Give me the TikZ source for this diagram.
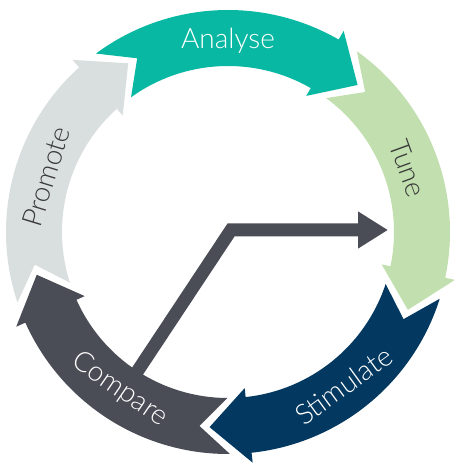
\documentclass[tikz,border=0pt]{standalone}
\usepackage{fontspec}
\setmainfont{Lato}[UprightFont=* Light]
\usetikzlibrary{arrows.meta}
\definecolor{analyse}{HTML}{08B8A3}
\definecolor{tune}{HTML}{C2E0AF}
\definecolor{stimulate}{HTML}{033860}
\definecolor{compare}{HTML}{4A4D56}
\definecolor{promote}{HTML}{D9DEDE}
\definecolor{darktext}{HTML}{3A3A3A}
\tikzset{steplabel/.style={font=\fontsize{28}{30}\selectfont, inner sep=0pt}}
\begin{document}
\begin{tikzpicture}[x=1pt, y=1pt]
	\def\ro{222pt} \def\ri{166pt} \def\rmid{196pt} \def\rbo{232pt} \def\rbi{157pt}
	\useasboundingbox (-228,-231) rectangle (226,232);
	% ring: tip angle / colour, tail notch sits 3 degrees past the previous tip
	\foreach \tip/\col in {120.6/promote, 48.6/analyse, -23.4/tune, -95.4/stimulate, -167.4/compare}{
		\pgfmathsetmacro\hb{\tip+11.5} \pgfmathsetmacro\tn{\tip+69}
		\pgfmathsetmacro\tlo{\tip+77.9} \pgfmathsetmacro\tli{\tip+77.15}
		\fill[\col] (\tlo:\ro) arc[start angle=\tlo, end angle=\hb, radius=\ro]
			-- (\hb:\rbo) -- (\tip:\rmid) -- (\hb:\rbi) -- (\hb:\ri)
			arc[start angle=\hb, end angle=\tli, radius=\ri] -- (\tn:\rmid) -- cycle;
	}
	\coordinate (cmpfoot) at (-101,-155);
	\coordinate (bend) at (3,2);
	\coordinate (tunetip) at (160,2);
	\draw[compare, line width=13pt, -{Triangle[length=30pt, width=35pt]}] (cmpfoot) -- (bend) -- (tunetip);
	\node[steplabel, text=white] (analyse) at (90:191pt) {Analyse};
	\node[steplabel, text=darktext, rotate=-70] (tune) at (19.5:191pt) {Tune};
	\node[steplabel, text=white, rotate=36] (stimulate) at (-53:192pt) {Stimulate};
	\node[steplabel, text=white, rotate=-34.5] (compare) at (-124.5:191pt) {Compare};
	\node[steplabel, text=darktext, rotate=73] (promote) at (163:190pt) {Promote};
\end{tikzpicture}
\end{document}
